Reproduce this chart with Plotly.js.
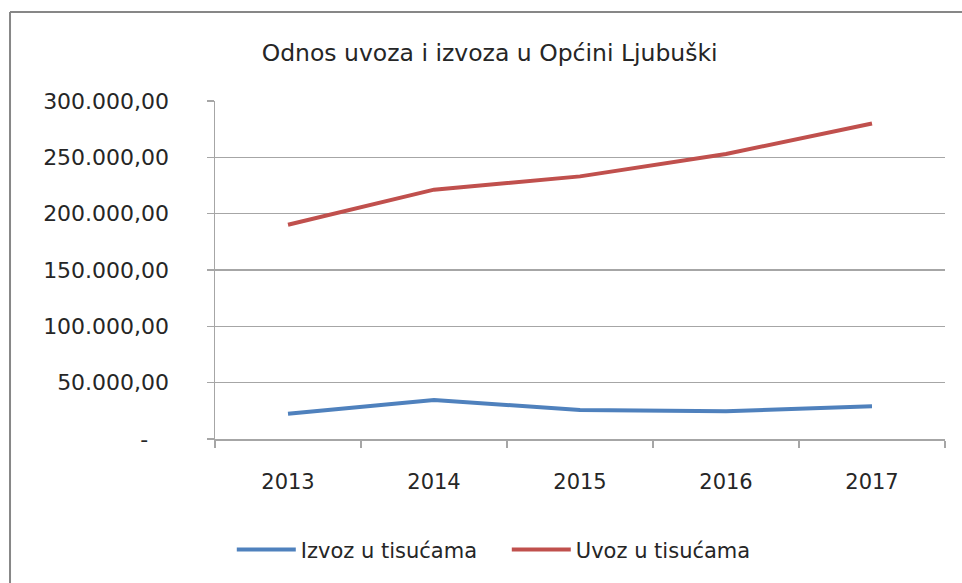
<!DOCTYPE html>
<html>
<head>
<meta charset="utf-8">
<script src="https://cdn.plot.ly/plotly-3.0.1.min.js"></script>
<style>
  html, body { margin: 0; padding: 0; background: #fff; }
  #chart { width: 962px; height: 583px; }
</style>
</head>
<body>
<div id="chart"></div>
<script>
// ---- data ----
const years = ['2013', '2014', '2015', '2016', '2017'];
const izvoz = [22500, 34600, 25700, 24600, 29000];
const uvoz = [190200, 221300, 233100, 253000, 280000];
const yTickVals = [0, 50000, 100000, 150000, 200000, 250000, 300000];
const yTickText = ['-\u00a0\u00a0\u00a0', '50.000,00', '100.000,00', '150.000,00', '200.000,00', '250.000,00', '300.000,00'];
const seriesNames = ['Izvoz u tisućama', 'Uvoz u tisućama'];
const chartTitle = 'Odnos uvoza i izvoza u Općini Ljubuški';

const FONT = 'DejaVu Sans, sans-serif';
const TXT = '#262626';
const GRID = '#a6a6a6';

const traces = [
  { x: years, y: izvoz, name: seriesNames[0], type: 'scatter', mode: 'lines',
    line: { color: '#4f81bd', width: 4 } },
  { x: years, y: uvoz, name: seriesNames[1], type: 'scatter', mode: 'lines',
    line: { color: '#c0504d', width: 4 } }
];

const layout = {
  width: 962, height: 583,
  margin: { l: 215, r: 17, t: 101, b: 144 },
  paper_bgcolor: '#ffffff', plot_bgcolor: '#ffffff',
  font: { family: FONT, color: TXT, size: 22 },
  title: { text: chartTitle, x: 0.509, xanchor: 'center', y: 0.91, yanchor: 'middle',
           font: { family: FONT, size: 23.5, color: TXT } },
  xaxis: {
    type: 'category', tickson: 'boundaries', ticks: 'outside', ticklen: 7, tickcolor: GRID, tickwidth: 1.5,
    showline: true, linecolor: GRID, linewidth: 1.5, showgrid: false, zeroline: false,
    tickfont: { family: FONT, size: 21, color: TXT }, ticklabelstandoff: 23,
    range: [-0.5, 4.5], fixedrange: true
  },
  yaxis: {
    range: [0, 300000], tickvals: yTickVals, ticktext: yTickText,
    ticks: 'outside', ticklen: 7, tickcolor: GRID, tickwidth: 1.5,
    showline: true, linecolor: GRID, linewidth: 1.5,
    showgrid: true, gridcolor: GRID, gridwidth: 1.5, zeroline: false,
    tickfont: { family: FONT, size: 22, color: TXT }, ticklabelstandoff: 33,
    fixedrange: true
  },
  showlegend: true,
  legend: {
    orientation: 'h', x: 0.023, xanchor: 'left', y: -0.328, yanchor: 'middle',
    font: { family: FONT, size: 21, color: TXT }, itemwidth: 59, traceorder: 'normal',
    entrywidth: 201, bgcolor: 'rgba(0,0,0,0)'
  },
  shapes: [
    { type: 'line', xref: 'paper', yref: 'paper', x0: -0.2808, x1: -0.2808, y0: 1.2633, y1: -0.5,
      line: { color: '#878787', width: 2 } },
    { type: 'line', xref: 'paper', yref: 'paper', x0: -0.2808, x1: 1.1, y0: 1.2633, y1: 1.2633,
      line: { color: '#878787', width: 2 } }
  ]
};

Plotly.newPlot('chart', traces, layout, { displayModeBar: false, staticPlot: true });
</script>
</body>
</html>
